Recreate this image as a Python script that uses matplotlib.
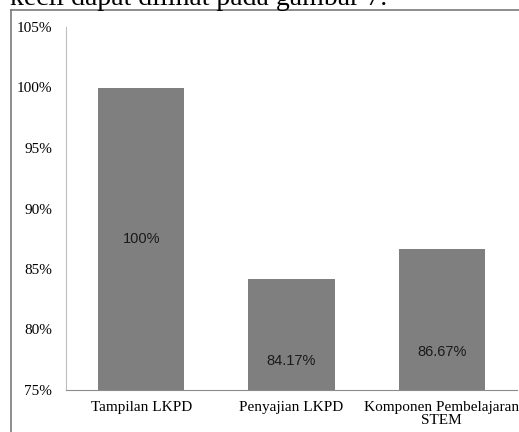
import matplotlib.pyplot as plt
from matplotlib.lines import Line2D

# data
categories = ['Tampilan LKPD', 'Penyajian LKPD', 'Komponen Pembelajaran\nSTEM']
values = [100, 84.17, 86.67]
value_labels = ['100%', '84.17%', '86.67%']
label_y = [87.5, 77.4, 78.1]
yticks = [75, 80, 85, 90, 95, 100, 105]

W, H = 519, 432
fig = plt.figure(figsize=(W / 100, H / 100), dpi=100)

# axes box in pixel coords
left, right, top, bottom = 66, 517, 27, 390
ax = fig.add_axes([left / W, 1 - bottom / H, (right - left) / W, (bottom - top) / H])

x = range(len(categories))
ax.bar(x, values, width=0.575, color='#7f7f7f', zorder=2)
for i, (lab, yy) in enumerate(zip(value_labels, label_y)):
    ax.text(i, yy, lab, ha='center', va='center', fontsize=10.5,
            family='Liberation Sans', color='#1a1a1a')

ax.set_xlim(-0.5, len(categories) - 0.5)
ax.set_ylim(75, 105)
ax.set_yticks(yticks)
ax.set_yticklabels([f'{t}%' for t in yticks], family='Liberation Serif', fontsize=11)
ax.set_xticks(list(x))
ax.set_xticklabels(categories, family='Liberation Serif', fontsize=11, linespacing=0.95)
ax.tick_params(length=0, pad=8)
ax.tick_params(axis='y', pad=10)

for s in ['top', 'right']:
    ax.spines[s].set_visible(False)
ax.spines['left'].set_color('#bfbfbf')
ax.spines['bottom'].set_color('#8c8c8c')

# surrounding frame of the scanned figure
fig.add_artist(Line2D([11 / W, 11 / W], [0, 1 - 10 / H], color='#7a7a7a', lw=1.2))
fig.add_artist(Line2D([11 / W, 1], [1 - 10 / H, 1 - 10 / H], color='#7a7a7a', lw=1.2))

# cut-off document text above the chart
fig.text(10 / W, 1 - 5 / H, 'kecil dapat dilihat pada gambar 7.', family='Liberation Serif',
         fontsize=20, va='baseline', ha='left')

fig.savefig('out.png', dpi=100)
